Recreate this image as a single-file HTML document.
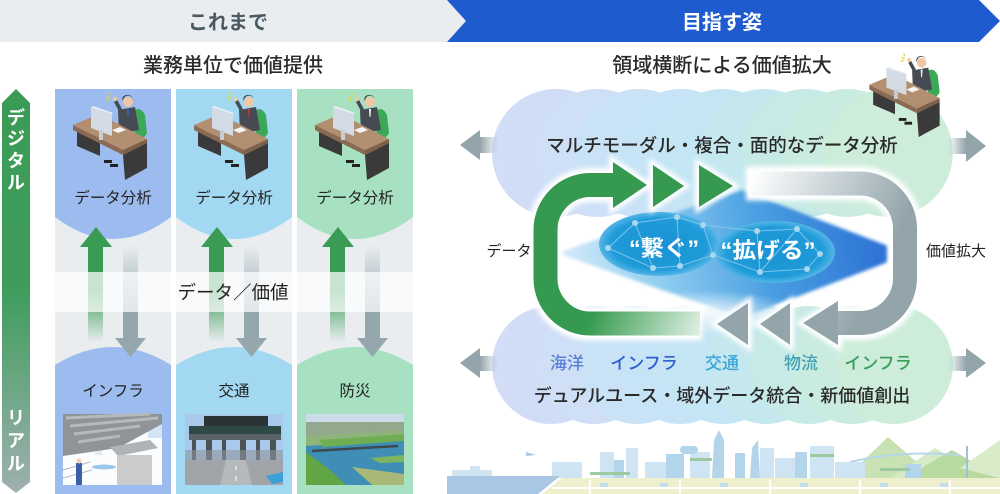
<!DOCTYPE html>
<html><head><meta charset="utf-8">
<style>
html,body{margin:0;padding:0;background:#fff;}
svg{display:block;}
text{font-family:"Liberation Sans","Noto Sans CJK JP",sans-serif;}
</style></head><body>
<svg width="1000" height="494" viewBox="0 0 1000 494" xmlns="http://www.w3.org/2000/svg">
<defs>
  <linearGradient id="vg" x1="0" y1="0" x2="0" y2="1">
    <stop offset="0" stop-color="#3a9b55"/>
    <stop offset="0.5" stop-color="#3e9d5c"/>
    <stop offset="1" stop-color="#a0b0b0"/>
  </linearGradient>
  <linearGradient id="gs" x1="0" y1="0" x2="0" y2="1">
    <stop offset="0" stop-color="#3a9b55"/>
    <stop offset="0.45" stop-color="#3a9b55"/>
    <stop offset="1" stop-color="#3a9b55" stop-opacity="0"/>
  </linearGradient>
  <linearGradient id="gd" x1="0" y1="0" x2="0" y2="1">
    <stop offset="0" stop-color="#94a7ad" stop-opacity="0"/>
    <stop offset="0.7" stop-color="#94a7ad"/>
    <stop offset="1" stop-color="#94a7ad"/>
  </linearGradient>
  <linearGradient id="al" x1="0" y1="0" x2="1" y2="0">
    <stop offset="0" stop-color="#93a5ab"/>
    <stop offset="1" stop-color="#93a5ab" stop-opacity="0"/>
  </linearGradient>
  <linearGradient id="ar" x1="0" y1="0" x2="1" y2="0">
    <stop offset="0" stop-color="#93a5ab" stop-opacity="0"/>
    <stop offset="1" stop-color="#93a5ab"/>
  </linearGradient>
  <linearGradient id="bl" gradientUnits="userSpaceOnUse" x1="560" y1="275" x2="885" y2="215">
    <stop offset="0" stop-color="#d8ecf9"/>
    <stop offset="0.3" stop-color="#8fcdf0"/>
    <stop offset="0.62" stop-color="#4a9fe2"/>
    <stop offset="1" stop-color="#2b6fd4"/>
  </linearGradient>
  <radialGradient id="wf" cx="0.5" cy="0.5" r="0.5">
    <stop offset="0" stop-color="#fff" stop-opacity="0.85"/>
    <stop offset="1" stop-color="#fff" stop-opacity="0"/>
  </radialGradient>
  <radialGradient id="el" cx="0.5" cy="0.5" r="0.5">
    <stop offset="0" stop-color="#1a93d4"/>
    <stop offset="0.8" stop-color="#1f9bd9"/>
    <stop offset="1" stop-color="#55b6e6"/>
  </radialGradient>
  <linearGradient id="gg" gradientUnits="userSpaceOnUse" x1="600" y1="290" x2="705" y2="330">
    <stop offset="0" stop-color="#35994f"/>
    <stop offset="1" stop-color="#e4f3e7"/>
  </linearGradient>
  <linearGradient id="gy" gradientUnits="userSpaceOnUse" x1="748" y1="183" x2="890" y2="250">
    <stop offset="0" stop-color="#ffffff"/>
    <stop offset="0.15" stop-color="#eef2f3"/>
    <stop offset="1" stop-color="#93a5ab"/>
  </linearGradient>
  <filter id="gl" x="-20%" y="-20%" width="140%" height="140%"><feGaussianBlur stdDeviation="2.5"/></filter>
  <filter id="b2" x="-10%" y="-10%" width="120%" height="120%"><feGaussianBlur stdDeviation="1.5"/></filter>

  <g id="desk">
    <path d="M133,112 q7,-7 12,3 l2,18 q-4,8 -12,4 z" fill="#3aa856"/>
    <path d="M118,110 l17,-3 l4,23 l-20,4 z" fill="#464b53"/>
    <path d="M119,111 l-5,-9 l3,-2 l5,9z" fill="#464b53"/>
    <circle cx="115" cy="99" r="2" fill="#f0c7a4"/>
    <circle cx="128" cy="102" r="5" fill="#f0c7a4"/>
    <path d="M123,101 a5,5 0 0 1 10,-1 l-1,-3 a5,4 0 0 0 -9,4z" fill="#2a2a2a"/>
    <path d="M127,109 l2,0 l-0.5,8 l-1,0z" fill="currentColor"/>
    <path d="M107,96 l3,2 M106,100 l3,0 M109,92 l1.5,3" stroke="#e3d32a" stroke-width="1.2"/>
    <polygon points="77,128 100,138 100,156 77,146" fill="#3a3a3a"/>
    <path d="M104,160 h8 v3 h-8z M110,164 h8 v3 h-8z" fill="#222"/>
    <polygon points="73,125 99,114 147,139 123,150" fill="#b38f71"/>
    <polygon points="73,125 123,150 123,155 73,130" fill="#8a6a52"/>
    <polygon points="123,150 147,139 147,143 123,155" fill="#7e6049"/>
    <polygon points="123,155 147,143 147,168 125,180" fill="#3a3a3a"/>
    <polygon points="91,107 112,114 112,136 91,128" fill="#d3dbe4"/>
    <polygon points="91,107 93,106 113,113 112,114" fill="#eef2f6"/>
    <rect x="99" y="130" width="4" height="10" fill="#c6ced6"/>
    <polygon points="112,130 120,127 126,130 118,133" fill="#f4f4f4"/>
  </g>
</defs>

<!-- HEADER -->
<rect x="0" y="0" width="470" height="42" fill="#e9edf0"/>
<polygon points="447,0 979,0 1000,21 979,42 447,42 466,21" fill="#1e5bcf"/>
<text x="228" y="29" font-size="20" font-weight="bold" fill="#4b5a62" text-anchor="middle">これまで</text>
<text x="722" y="29" font-size="20" font-weight="bold" fill="#fff" text-anchor="middle">目指す姿</text>

<text x="233" y="72" font-size="20" font-weight="500" fill="#2a2a2a" text-anchor="middle">業務単位で価値提供</text>
<text x="722" y="72" font-size="20" font-weight="500" fill="#2a2a2a" text-anchor="middle">領域横断による価値拡大</text>

<!-- LEFT vertical arrow -->
<polygon points="2,103 16,89 30,103 30,482 16,493 2,482" fill="url(#vg)"/>
<g font-size="18" font-weight="bold" fill="#fff" text-anchor="middle">
  <text x="16" y="124">デ</text><text x="16" y="145">ジ</text><text x="16" y="167">タ</text><text x="16" y="189">ル</text>
  <text x="16" y="424">リ</text><text x="16" y="447">ア</text><text x="16" y="470">ル</text>
</g>

<!-- Columns -->
<g>
  <rect x="55" y="89" width="116" height="405" fill="#e9edf0"/>
  <rect x="176" y="89" width="116" height="405" fill="#e9edf0"/>
  <rect x="297" y="89" width="116" height="405" fill="#e9edf0"/>
  <path d="M55 89 H171 V217 Q113 261 55 217 Z" fill="#9cbbef"/>
  <path d="M176 89 H292 V217 Q234 261 176 217 Z" fill="#a2d8f1"/>
  <path d="M297 89 H413 V217 Q355 261 297 217 Z" fill="#a8e1c1"/>
  <path d="M55 365 Q113 329 171 365 V494 H55 Z" fill="#9cbbef"/>
  <path d="M176 365 Q234 329 292 365 V494 H176 Z" fill="#a2d8f1"/>
  <path d="M297 365 Q355 329 413 365 V494 H297 Z" fill="#a8e1c1"/>
</g>

<!-- arrows in columns -->
<g>
  <rect x="88" y="247" width="15" height="95" fill="url(#gs)"/>
  <polygon points="80,247 96,227 112,247" fill="#3a9b55"/>
  <rect x="123" y="245" width="15" height="94" fill="url(#gd)"/>
  <polygon points="115,338 146,338 130.5,357" fill="#94a7ad"/>

  <rect x="209" y="247" width="15" height="95" fill="url(#gs)"/>
  <polygon points="201,247 217,227 233,247" fill="#3a9b55"/>
  <rect x="244" y="245" width="15" height="94" fill="url(#gd)"/>
  <polygon points="236,338 267,338 251.5,357" fill="#94a7ad"/>

  <rect x="330" y="247" width="15" height="95" fill="url(#gs)"/>
  <polygon points="322,247 338,227 354,247" fill="#3a9b55"/>
  <rect x="365" y="245" width="15" height="94" fill="url(#gd)"/>
  <polygon points="357,338 388,338 372.5,357" fill="#94a7ad"/>
</g>
<rect x="55" y="272" width="358" height="40" fill="#fff" opacity="0.72"/>
<text x="233" y="299" font-size="18.5" fill="#222" text-anchor="middle">データ／価値</text>

<!-- desks -->
<use href="#desk" color="#2f63c9"/>
<use href="#desk" color="#cc3333" transform="translate(121,0)"/>
<use href="#desk" color="#f4f4f4" transform="translate(242,0)"/>

<g font-size="15.5" fill="#222" text-anchor="middle">
  <text x="113" y="203">データ分析</text>
  <text x="234" y="203">データ分析</text>
  <text x="355" y="203">データ分析</text>
  <text x="113" y="396">インフラ</text>
  <text x="234" y="396">交通</text>
  <text x="355" y="396">防災</text>
</g>

<!-- Photo 1: infrastructure -->
<g>
  <rect x="63" y="414" width="99" height="71" fill="#fbfcfd"/>
  <rect x="148" y="416" width="14" height="22" fill="#d3e5f5"/>
  <polygon points="63,414 162,414 162,424 140,436 118,448 63,456" fill="#8e9497"/>
  <path d="M66,418 L150,414 M70,426 L158,418 M74,434 L140,426 M78,442 L120,436" stroke="#b4b9bc" stroke-width="3"/>
  <polygon points="110,447 150,440 158,448 118,456" fill="#b0b4b6"/>
  <rect x="117" y="455" width="35" height="30" fill="#c9cbcc"/>
  <ellipse cx="104" cy="467" rx="12" ry="2.5" fill="#9cc7ea"/>
  <path d="M63,470 L90,462 M63,478 L92,470" stroke="#b7bcc0" stroke-width="1"/>
  <rect x="76" y="463" width="6" height="22" fill="#3a5fa8"/>
  <circle cx="79" cy="461" r="2.5" fill="#f0d0b0"/>
  <rect x="95" y="451" width="7" height="4" fill="#e6e8ea"/>
</g>
<!-- Photo 2: toll gate -->
<g>
  <rect x="185" y="414" width="98" height="71" fill="#a8c9ec"/>
  <rect x="204" y="416" width="64" height="10" fill="#2b3336"/>
  <rect x="189" y="426" width="92" height="8" fill="#2f4a45"/>
  <rect x="189" y="434" width="92" height="6" fill="#5a6468"/>
  <rect x="192" y="440" width="4" height="22" fill="#4a5458"/>
  <rect x="206" y="440" width="6" height="22" fill="#4a5458"/>
  <rect x="222" y="440" width="4" height="22" fill="#4a5458"/>
  <rect x="240" y="440" width="6" height="22" fill="#4a5458"/>
  <rect x="256" y="440" width="4" height="22" fill="#4a5458"/>
  <rect x="270" y="440" width="6" height="22" fill="#4a5458"/>
  <rect x="185" y="450" width="98" height="12" fill="#8f969b" opacity="0.6"/>
  <rect x="185" y="460" width="98" height="25" fill="#a0a4a8"/>
  <polygon points="226,460 246,460 252,485 220,485" fill="#b6b9bc"/>
  <path d="M236,466 v4 M236,476 v5" stroke="#fff" stroke-width="1"/>
  <polygon points="266,476 283,472 283,482 272,484" fill="#3b9fd8"/>
</g>
<!-- Photo 3: river -->
<g>
  <rect x="306" y="414" width="98" height="71" fill="#3f8eb5"/>
  <rect x="306" y="414" width="98" height="9" fill="#cadbe9"/>
  <rect x="306" y="422" width="98" height="18" fill="#93a88c"/>
  <polygon points="306,436 404,430 404,440 306,446" fill="#8fb37a"/>
  <polygon points="320,440 404,434 404,441 322,447" fill="#6fae52"/>
  <path d="M312,451 L398,446" stroke="#3c4a50" stroke-width="2.5"/>
  <polygon points="306,452 330,470 346,485 306,485" fill="#62a545"/>
  <polygon points="352,467 404,474 404,485 372,485" fill="#a9b879"/>
  <polygon points="370,458 404,455 404,462 380,463" fill="#7fb45e"/>
</g>

<!-- RIGHT PANEL -->
<!-- side arrows -->
<g>
  <rect x="480" y="137" width="18" height="16" fill="url(#al)"/>
  <polygon points="460,145 480,130 480,160" fill="#93a5ab"/>
  <rect x="948" y="138" width="18" height="16" fill="url(#ar)"/>
  <polygon points="986,146 966,130 966,162" fill="#93a5ab"/>
  <rect x="480" y="356" width="18" height="15" fill="url(#al)"/>
  <polygon points="460,363 480,348 480,378" fill="#93a5ab"/>
  <rect x="948" y="356" width="18" height="15" fill="url(#ar)"/>
  <polygon points="986,363 966,348 966,378" fill="#93a5ab"/>
</g>
<!-- top circles -->
<g opacity="0.5">
  <circle cx="556" cy="153" r="64" fill="#a5bcef"/>
  <circle cx="597.6" cy="153" r="64" fill="#9fc0ef"/>
  <circle cx="639.2" cy="153" r="64" fill="#97c6ee"/>
  <circle cx="680.8" cy="153" r="64" fill="#8ecbed"/>
  <circle cx="722.4" cy="153" r="64" fill="#8acfea"/>
  <circle cx="764" cy="153" r="64" fill="#8dd3e0"/>
  <circle cx="805.6" cy="153" r="64" fill="#91d6cf"/>
  <circle cx="847.2" cy="153" r="64" fill="#96d9c0"/>
  <circle cx="888.8" cy="153" r="64" fill="#9cdcb6"/>
</g>
<!-- bottom circles -->
<g opacity="0.5">
  <circle cx="551" cy="365" r="59" fill="#a5bcef"/>
  <circle cx="594" cy="365" r="59" fill="#9fc0ef"/>
  <circle cx="637" cy="365" r="59" fill="#97c6ee"/>
  <circle cx="680" cy="365" r="59" fill="#8ecbed"/>
  <circle cx="723" cy="365" r="59" fill="#8acfea"/>
  <circle cx="766" cy="365" r="59" fill="#8dd3e0"/>
  <circle cx="809" cy="365" r="59" fill="#91d6cf"/>
  <circle cx="852" cy="365" r="59" fill="#96d9c0"/>
  <circle cx="894" cy="365" r="59" fill="#9cdcb6"/>
</g>

<text x="722" y="152" font-size="18.5" font-weight="500" fill="#2a2a2a" text-anchor="middle">マルチモーダル・複合・面的なデータ分析</text>

<!-- woman at desk -->
<use href="#desk" color="#f4f4f4" transform="translate(800,-34) scale(0.95)"/>

<!-- blue sheet -->
<polygon points="557,253 742,190 888,246 888,262 742,318" fill="url(#bl)" filter="url(#b2)"/>
<ellipse cx="705" cy="312" rx="95" ry="22" fill="url(#wf)"/>

<!-- ellipses -->
<ellipse cx="659" cy="244" rx="60" ry="32" fill="url(#el)"/>
<ellipse cx="775" cy="252" rx="60" ry="31" fill="url(#el)"/>
<g stroke="#86c9ec" stroke-width="1" fill="none" opacity="0.9">
  <path d="M608,248 L635,223 L677,217 L703,225 L757,231 L797,229 L820,254 L807,269 L760,272 L713,255 L703,225"/>
  <path d="M608,248 L653,268 L680,266 L713,255 M635,223 L653,268 M677,217 L680,266 M757,231 L760,272 M797,229 L760,272"/>
</g>
<g fill="#a9d6ef">
  <circle cx="608" cy="248" r="3"/><circle cx="635" cy="223" r="3"/><circle cx="677" cy="217" r="3"/>
  <circle cx="703" cy="225" r="3"/><circle cx="713" cy="255" r="3"/><circle cx="680" cy="266" r="3"/>
  <circle cx="653" cy="268" r="3"/><circle cx="757" cy="231" r="3"/><circle cx="797" cy="229" r="3"/>
  <circle cx="820" cy="254" r="3"/><circle cx="807" cy="269" r="3"/><circle cx="760" cy="272" r="3"/>
</g>
<text x="664" y="256" font-size="22" font-weight="bold" fill="#fff" text-anchor="middle" textLength="70" lengthAdjust="spacingAndGlyphs">“繋ぐ”</text>
<text x="768" y="258" font-size="22" font-weight="bold" fill="#fff" text-anchor="middle" textLength="95" lengthAdjust="spacingAndGlyphs">“拡げる”</text>

<!-- glows -->
<g filter="url(#gl)" stroke="#fff" fill="#fff">
  <path d="M702,323.5 H590 A45,45 0 0 1 545.5,278.5 V230 A45,45 0 0 1 590,185 H616" fill="none" stroke-width="34"/>
  <path d="M746,183.5 H860 A45,45 0 0 1 905,228.5 V278 A45,45 0 0 1 860,323 H836" fill="none" stroke-width="34"/>
  <polygon points="613,162 647,185 613,208" stroke-width="8"/>
  <polygon points="653,165 684,186 653,207" stroke-width="8"/>
  <polygon points="699,165 733,186 699,207" stroke-width="8"/>
  <polygon points="838,301 838,345 803,323" stroke-width="8"/>
  <polygon points="748,303 717,324 748,345" stroke-width="8"/>
  <polygon points="790,303 760,324 790,345" stroke-width="8"/>
</g>
<!-- green loop -->
<path d="M700,323.5 H590 A45,45 0 0 1 545.5,278.5 V230 A45,45 0 0 1 590,185 H616" fill="none" stroke="url(#gg)" stroke-width="24"/>
<polygon points="613,162 647,185 613,208" fill="#35994f"/>
<polygon points="653,165 684,186 653,207" fill="#35994f"/>
<polygon points="699,165 733,186 699,207" fill="#35994f"/>
<!-- gray loop -->
<path d="M748,183.5 H860 A45,45 0 0 1 905,228.5 V278 A45,45 0 0 1 860,323 H836" fill="none" stroke="url(#gy)" stroke-width="24"/>
<polygon points="838,301 838,345 803,323" fill="#93a5ab"/>
<polygon points="748,303 717,324 748,345" fill="#93a5ab"/>
<polygon points="790,303 760,324 790,345" fill="#93a5ab"/>

<text x="509" y="256" font-size="15" fill="#222" text-anchor="middle">データ</text>
<text x="956" y="256" font-size="15" fill="#222" text-anchor="middle">価値拡大</text>

<g font-size="17" font-weight="500" text-anchor="middle">
  <text x="567" y="369" fill="#5a80d6">海洋</text>
  <text x="644" y="369" fill="#2f5fd0">インフラ</text>
  <text x="722" y="369" fill="#3ba4d8">交通</text>
  <text x="801" y="369" fill="#44a2b4">物流</text>
  <text x="878" y="369" fill="#3a9f5a">インフラ</text>
</g>
<text x="722" y="402" font-size="18" font-weight="500" fill="#2a2a2a" text-anchor="middle">デュアルユース・域外データ統合・新価値創出</text>

<!-- cityscape -->
<g>
  <polygon points="845,478 888,437 935,478" fill="#c9e2b4"/>
  <polygon points="890,478 935,448 985,478" fill="#d6eac6"/>
  <polygon points="905,478 952,450 1000,478" fill="#b9da9f"/>
  <polygon points="960,468 1000,440 1000,478" fill="#d9ecca"/>
  <path d="M850,462 Q900,450 960,455" stroke="#b6d7e9" stroke-width="2" fill="none"/>
  <rect x="966" y="446" width="2" height="32" fill="#9cc4d8"/>
  <g fill="#cfe4f2">
    <rect x="600" y="452" width="14" height="28"/><rect x="626" y="448" width="12" height="32"/>
    <rect x="690" y="452" width="20" height="28"/><rect x="760" y="448" width="14" height="32"/>
    <rect x="810" y="446" width="24" height="34"/><rect x="775" y="458" width="28" height="22"/>
    <rect x="552" y="462" width="30" height="16"/><rect x="645" y="462" width="35" height="16"/>
    <rect x="835" y="462" width="30" height="16"/>
  </g>
  <g fill="#b2d5ec">
    <polygon points="712,478 714,440 719,430 724,440 724,478"/>
    <polygon points="750,478 752,448 758,440 760,478"/>
    <rect x="735" y="453" width="10" height="25"/>
    <rect x="666" y="454" width="18" height="24"/>
    <rect x="680" y="446" width="18" height="8" rx="4"/>
    <rect x="795" y="452" width="12" height="26"/>
    <rect x="614" y="460" width="10" height="18"/>
    <rect x="905" y="464" width="16" height="14"/>
  </g>
  <g fill="#9cc9a0">
    <rect x="690" y="458" width="22" height="3"/><rect x="810" y="454" width="24" height="3"/>
    <rect x="880" y="468" width="30" height="3"/><rect x="590" y="472" width="40" height="3"/>
  </g>
  <polygon points="447,476 560,476 538,494 447,494" fill="#a9c6e5"/>
  <rect x="452" y="470" width="40" height="6" fill="#d1e4f1"/>
  <rect x="470" y="466" width="10" height="4" fill="#d1e4f1"/>
  <path d="M526,452 l10,3 l-10,1 z" fill="#a7c8e4"/>
  <polygon points="542,494 562,478 1000,478 1000,494" fill="#eef0cd"/>
  <path d="M552,488 H1000 M590,480 V494 M680,480 V494 M770,480 V494 M860,480 V494 M950,480 V494" stroke="#fff" stroke-width="2"/>
  <g fill="#c3dded">
    <rect x="600" y="483" width="8" height="4"/><rect x="660" y="483" width="8" height="4"/>
    <rect x="720" y="483" width="8" height="4"/><rect x="800" y="483" width="8" height="4"/>
    <rect x="880" y="483" width="8" height="4"/><rect x="940" y="483" width="8" height="4"/>
  </g>
</g>
</svg>
</body></html>
